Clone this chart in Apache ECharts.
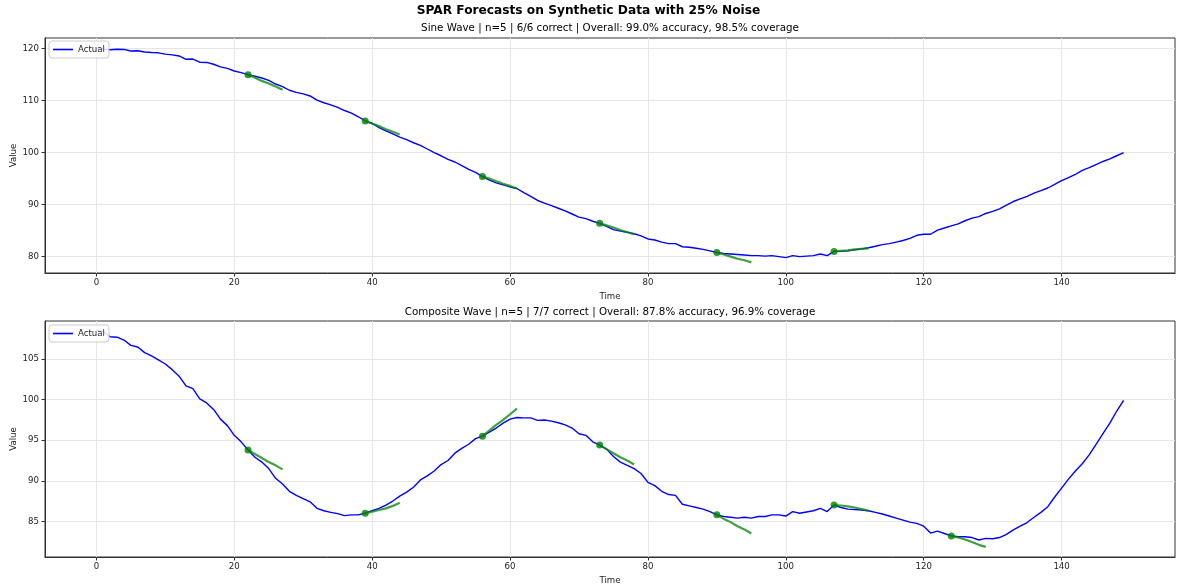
<!DOCTYPE html>
<html>
<head>
<meta charset="utf-8">
<script src="https://cdn.jsdelivr.net/npm/echarts@6/dist/echarts.min.js"></script>
<style>
html,body{margin:0;padding:0;background:#fff;}
#chart{width:1177px;height:587px;}
</style>
</head>
<body>
<div id="chart"></div>
<script>
// ---- Data ----
const sineActual = [
120.0,119.9,119.8,119.9,119.85,119.55,119.6,119.35,119.25,119.2,
118.95,118.8,118.6,117.95,118.0,117.4,117.35,117.0,116.5,116.2,
115.7,115.4,115.0,114.7,114.35,113.9,113.2,112.7,112.0,111.6,
111.3,110.9,110.1,109.6,109.2,108.7,108.1,107.6,106.9,106.1,
105.6,104.8,104.2,103.6,103.0,102.5,101.9,101.4,100.7,100.0,
99.4,98.7,98.2,97.5,96.8,96.2,95.4,94.7,94.2,93.8,
93.4,93.1,92.3,91.6,90.8,90.3,89.8,89.3,88.8,88.2,
87.6,87.3,86.8,86.4,85.8,85.2,84.9,84.7,84.4,84.0,
83.4,83.2,82.8,82.5,82.5,81.9,81.8,81.6,81.4,81.1,
80.8,80.6,80.5,80.4,80.3,80.2,80.2,80.1,80.2,80.0,
79.8,80.2,80.0,80.1,80.2,80.5,80.2,81.0,81.0,81.1,
81.3,81.5,81.7,82.0,82.3,82.5,82.8,83.1,83.5,84.1,
84.3,84.3,85.1,85.5,85.9,86.3,86.9,87.4,87.7,88.3,
88.7,89.2,89.9,90.6,91.1,91.6,92.2,92.7,93.2,93.9,
94.6,95.2,95.8,96.6,97.1,97.7,98.3,98.8,99.4,100.0
];
const compositeActual = [
108.6,108.4,107.75,107.7,107.35,106.7,106.5,105.8,105.4,104.9,
104.4,103.7,102.9,101.7,101.35,100.1,99.6,98.8,97.6,96.8,
95.6,94.8,93.8,92.9,92.3,91.5,90.3,89.6,88.7,88.2,
87.8,87.4,86.6,86.3,86.1,85.95,85.7,85.8,85.8,86.0,
86.3,86.6,87.0,87.5,88.1,88.6,89.2,90.1,90.6,91.2,
92.0,92.5,93.4,94.0,94.5,95.2,95.5,96.0,96.5,97.1,
97.6,97.8,97.75,97.75,97.45,97.5,97.35,97.15,96.9,96.5,
95.8,95.6,94.8,94.4,93.9,93.0,92.3,91.9,91.5,90.9,
89.8,89.4,88.7,88.3,88.2,87.1,86.9,86.7,86.5,86.2,
85.8,85.6,85.5,85.4,85.5,85.4,85.6,85.6,85.8,85.8,
85.65,86.2,86.0,86.15,86.3,86.6,86.2,87.0,86.7,86.5,
86.45,86.4,86.3,86.1,85.9,85.65,85.4,85.15,84.9,84.75,
84.4,83.55,83.8,83.5,83.2,83.1,83.1,83.0,82.7,82.9,
82.85,83.0,83.4,83.95,84.4,84.85,85.5,86.1,86.8,88.0,
89.1,90.2,91.2,92.1,93.2,94.5,95.8,97.1,98.6,99.9
];
const sineForecastStarts = [22, 39, 56, 73, 90, 107];
const sineForecasts = [
  [115.0, 114.4, 113.8, 113.3, 112.7, 112.1],
  [106.1, 105.6, 105.1, 104.5, 104.0, 103.5],
  [95.4, 95.0, 94.5, 94.0, 93.6, 93.1],
  [86.4, 86.0, 85.6, 85.1, 84.7, 84.3],
  [80.8, 80.4, 80.0, 79.6, 79.3, 78.9],
  [81.0, 81.1, 81.2, 81.4, 81.5, 81.6]
];
const compositeForecastStarts = [22, 39, 56, 73, 90, 107, 124];
const compositeForecasts = [
  [93.8, 93.3, 92.8, 92.3, 91.9, 91.4],
  [86.0, 86.2, 86.4, 86.6, 86.9, 87.3],
  [95.5, 96.2, 96.9, 97.5, 98.2, 98.9],
  [94.4, 93.9, 93.4, 92.9, 92.5, 92.0],
  [85.8, 85.3, 84.9, 84.4, 84.0, 83.5],
  [87.0, 86.95, 86.85, 86.7, 86.5, 86.3],
  [83.2, 83.0, 82.75, 82.45, 82.1, 81.85]
];
const xTicks = [0, 20, 40, 60, 80, 100, 120, 140];
const sineYTicks = [80, 90, 100, 110, 120];
const compositeYTicks = [85, 90, 95, 100, 105];

const suptitleText = 'SPAR Forecasts on Synthetic Data with 25% Noise';
const sineTitle = 'Sine Wave | n=5 | 6/6 correct | Overall: 99.0% accuracy, 98.5% coverage';
const compositeTitle = 'Composite Wave | n=5 | 7/7 correct | Overall: 87.8% accuracy, 96.9% coverage';

// ---- Chart ----
const FONT = 'DejaVu Sans';
const chart = echarts.init(document.getElementById('chart'), null, {renderer: 'canvas'});

function xAxisCfg(gi) {
  return {
    type: 'value', gridIndex: gi, min: -7.45, max: 156.45, splitNumber: 8,
    name: 'Time', nameLocation: 'middle', nameGap: 19,
    nameTextStyle: {fontFamily: FONT, fontSize: 8.6, color: '#222'},
    axisLine: {show: true, onZero: false, lineStyle: {color: '#333', width: 1}},
    axisTick: {show: true, customValues: xTicks, length: 3.5, lineStyle: {color: '#333'}},
    axisLabel: {customValues: xTicks, fontFamily: FONT, fontSize: 8.6, color: '#222', margin: 5},
    splitLine: {show: true, lineStyle: {color: '#e6e6e6', width: 1}}
  };
}
function yAxisCfg(gi, min, max, ticks) {
  return {
    type: 'value', gridIndex: gi, min: min, max: max, splitNumber: 5,
    name: 'Value', nameLocation: 'middle', nameGap: 27, nameMoveOverlap: false,
    nameTextStyle: {fontFamily: FONT, fontSize: 8.6, color: '#222'},
    axisLine: {show: true, onZero: false, lineStyle: {color: '#333', width: 1}},
    axisTick: {show: true, customValues: ticks, length: 3.5, lineStyle: {color: '#333'}},
    axisLabel: {customValues: ticks, fontFamily: FONT, fontSize: 8.6, color: '#222', margin: 6},
    splitLine: {show: true, lineStyle: {color: '#e6e6e6', width: 1}}
  };
}

const series = [];
function addPanel(gi, actual, starts, forecasts) {
  series.push({
    name: 'Actual', type: 'line', xAxisIndex: gi, yAxisIndex: gi,
    data: actual.map((v, i) => [i, v]),
    showSymbol: false, symbol: 'none',
    lineStyle: {color: '#0000ff', width: 1.4}, itemStyle: {color: '#0000ff'},
    z: 2, silent: true
  });
  forecasts.forEach((vals, k) => {
    series.push({
      name: 'Forecast', type: 'line', xAxisIndex: gi, yAxisIndex: gi,
      data: vals.map((v, j) => [starts[k] + j, v]),
      showSymbol: false, symbol: 'none',
      lineStyle: {color: 'rgba(10,135,10,0.78)', width: 2.2},
      z: 3, silent: true
    });
  });
  series.push({
    name: 'Forecast start', type: 'scatter', xAxisIndex: gi, yAxisIndex: gi,
    data: starts.map((s, k) => [s, forecasts[k][0]]),
    symbolSize: 7, itemStyle: {color: '#008000'}, z: 4, silent: true
  });
}
addPanel(0, sineActual, sineForecastStarts, sineForecasts);
addPanel(1, compositeActual, compositeForecastStarts, compositeForecasts);

function legendCfg(top) {
  return {
    data: [{name: 'Actual', icon: 'rect'}],
    left: 49, top: top, orient: 'vertical',
    itemWidth: 20, itemHeight: 1.6,
    padding: [4, 4, 4, 4],
    backgroundColor: 'rgba(255,255,255,0.85)',
    borderColor: '#cccccc', borderWidth: 1, borderRadius: 3,
    textStyle: {fontFamily: FONT, fontSize: 8.6, color: '#222'},
    selectedMode: false, z: 10
  };
}

const option = {
  animation: false,
  backgroundColor: '#ffffff',
  grid: [
    {left: 45, top: 38, width: 1130, height: 235, show: true, borderColor: '#333', borderWidth: 1, containLabel: false, outerBoundsMode: 'none'},
    {left: 45, top: 321, width: 1130, height: 236, show: true, borderColor: '#333', borderWidth: 1, containLabel: false, outerBoundsMode: 'none'}
  ],
  xAxis: [xAxisCfg(0), xAxisCfg(1)],
  yAxis: [yAxisCfg(0, 76.85, 122.05, sineYTicks), yAxisCfg(1, 80.6, 109.7, compositeYTicks)],
  legend: [legendCfg(41), legendCfg(325)],
  graphic: [
    {type: 'text', left: 'center', top: 5, style: {text: suptitleText, fontFamily: FONT, fontSize: 12.2, fontWeight: 'bold', fill: '#000'}},
    {type: 'text', x: 610, y: 28, style: {text: sineTitle, fontFamily: FONT, fontSize: 10.3, fill: '#000', align: 'center', verticalAlign: 'middle'}},
    {type: 'text', x: 610, y: 312, style: {text: compositeTitle, fontFamily: FONT, fontSize: 10.3, fill: '#000', align: 'center', verticalAlign: 'middle'}}
  ],
  series: series
};
chart.setOption(option);
</script>
</body>
</html>
